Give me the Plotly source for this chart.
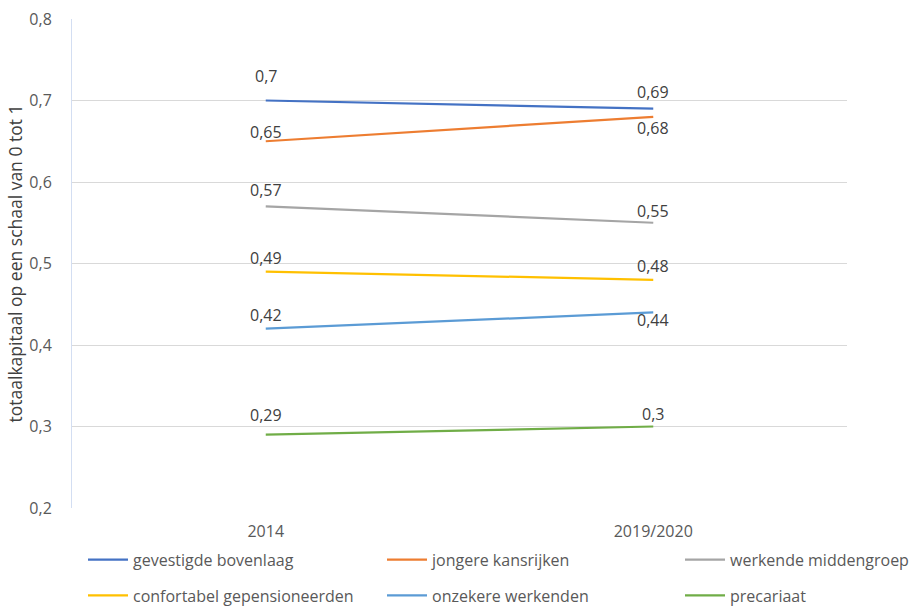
import plotly.graph_objects as go

categories = ["2014", "2019/2020"]
series_names = ["gevestigde bovenlaag", "jongere kansrijken", "werkende middengroep",
                "confortabel gepensioneerden", "onzekere werkenden", "precariaat"]
gevestigde_bovenlaag = [0.70, 0.69]
jongere_kansrijken = [0.65, 0.68]
werkende_middengroep = [0.57, 0.55]
confortabel_gepensioneerden = [0.49, 0.48]
onzekere_werkenden = [0.42, 0.44]
precariaat = [0.29, 0.30]
values = [gevestigde_bovenlaag, jongere_kansrijken, werkende_middengroep,
          confortabel_gepensioneerden, onzekere_werkenden, precariaat]

colors = ["#4472C4", "#ED7D31", "#A5A5A5", "#FFC000", "#5B9BD5", "#70AD47"]
# label vertical offsets (px) per series, per category
label_shift = [[25, 17], [9, -11], [16, 12], [14, 14], [14, -8], [20, 13]]
legend_ids = ["legend", "legend2", "legend3", "legend", "legend2", "legend3"]

FONT = "Open Sans, Liberation Sans, sans-serif"
fig = go.Figure()
annotations = []
for i, (name, vals) in enumerate(zip(series_names, values)):
    fig.add_trace(go.Scatter(
        x=categories, y=vals, mode="lines", name=name,
        line=dict(color=colors[i], width=2.25),
        legend=legend_ids[i], legendgroup=name, hoverinfo="skip"))
    for j, v in enumerate(vals):
        annotations.append(dict(
            x=j, y=v, xref="x", yref="y", text=f"{v:g}".replace(".", ","),
            showarrow=False, yshift=label_shift[i][j],
            font=dict(family=FONT, size=16, color="#404040")))

leg_common = dict(orientation="v", yanchor="top", xanchor="left", y=-0.071,
                  font=dict(family=FONT, size=16, color="#595959"),
                  itemwidth=40, tracegroupgap=12, bgcolor="rgba(0,0,0,0)",
                  itemclick=False, itemdoubleclick=False)

fig.update_layout(
    width=921, height=613,
    margin=dict(l=72, r=74, t=19, b=105, autoexpand=False),
    paper_bgcolor="white", plot_bgcolor="white",
    separators=",.",
    showlegend=True,
    annotations=annotations,
    legend=dict(x=(83 - 72) / 775, **leg_common),
    legend2=dict(x=(382 - 72) / 775, **leg_common),
    legend3=dict(x=(680 - 72) / 775, **leg_common),
    xaxis=dict(type="category", range=[-0.5, 1.5], showgrid=False, zeroline=False,
               showline=False, ticks="", ticklabelstandoff=12,
               tickfont=dict(family=FONT, size=16, color="#595959")),
    yaxis=dict(range=[0.2, 0.8], dtick=0.1, tick0=0.2, tickformat=".1f",
               showgrid=True, gridcolor="#D9D9D9", gridwidth=1,
               zeroline=False, showline=True, linecolor="#D3DEF2", linewidth=1,
               ticks="", ticklabelstandoff=16,
               tickfont=dict(family=FONT, size=16, color="#595959"),
               title=dict(text="totaalkapitaal op een schaal van 0 tot 1", standoff=2,
                          font=dict(family=FONT, size=17.5, color="#404040"))),
)
fig.write_html("out.html", config={"displayModeBar": False},
               post_script="document.body.style.margin='0';")
